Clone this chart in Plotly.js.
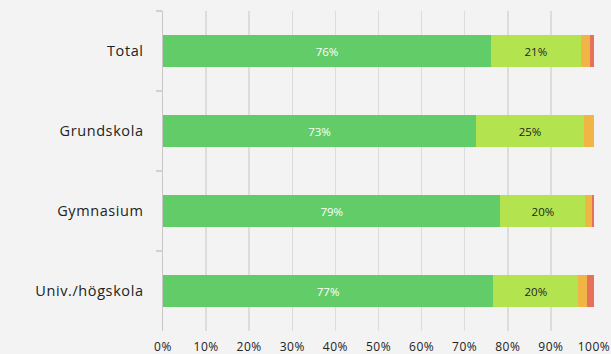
<!DOCTYPE html>
<html>
<head>
<meta charset="utf-8">
<script src="https://cdn.plot.ly/plotly-3.0.1.min.js"></script>
<style>
html,body{margin:0;padding:0;background:#f3f3f3;}
#chart{width:611px;height:354px;}
.ytick text{letter-spacing:0.6px;}
.xtick text{letter-spacing:0.5px;}
.bars .textpoint text{letter-spacing:0.5px;}
</style>
</head>
<body>
<div id="chart"></div>
<script>
const categories = ["Total", "Grundskola", "Gymnasium", "Univ./högskola"];
const seriesA = [76.1, 72.6, 78.3, 76.6];
const seriesB = [20.8, 25.1, 19.7, 19.8];
const seriesC = [2.2, 2.3, 1.5, 2.0];
const seriesD = [0.9, 0.0, 0.5, 1.6];
const labelsA = ["76%", "73%", "79%", "77%"];
const labelsB = ["21%", "25%", "20%", "20%"];
const xTickVals = [0,10,20,30,40,50,60,70,80,90,100];
const xTickText = ["0%","10%","20%","30%","40%","50%","60%","70%","80%","90%","100%"];

const font = "Open Sans, sans-serif";
function bar(vals, color, text, textColor){
  return {
    type: "bar", orientation: "h", y: categories, x: vals,
    marker: {color: color, line: {width: 0}},
    text: text || null, textposition: text ? "inside" : "none",
    insidetextanchor: "middle",
    textfont: {family: font, size: 11.5, color: textColor || "#222"},
    hoverinfo: "x+y"
  };
}
const data = [
  bar(seriesA, "#62cd68", labelsA, "#ffffff"),
  bar(seriesB, "#b3e34f", labelsB, "#1f1f1f"),
  bar(seriesC, "#f1b546"),
  bar(seriesD, "#e7705a")
];
const layout = {
  width: 611, height: 354,
  barmode: "stack", bargap: 0.59,
  showlegend: false,
  paper_bgcolor: "#f3f3f3", plot_bgcolor: "#f3f3f3",
  margin: {l: 163, r: 17, t: 11, b: 23},
  font: {family: font, color: "#222"},
  xaxis: {
    range: [0, 100], tickvals: xTickVals, ticktext: xTickText,
    showgrid: true, gridcolor: "#dcdcdc", gridwidth: 1.5,
    zeroline: false, showline: false, ticks: "",
    ticklabelstandoff: 7,
    tickfont: {family: font, size: 12, color: "#222"},
    fixedrange: true
  },
  yaxis: {
    autorange: "reversed", type: "category",
    showline: true, linecolor: "#c8c8c8", linewidth: 1.5,
    ticks: "outside", tickson: "boundaries", ticklen: 6, tickcolor: "#d0d0d0", tickwidth: 1.5,
    ticklabelstandoff: 15,
    showgrid: false,
    tickfont: {family: font, size: 14.5, color: "#222"},
    fixedrange: true
  }
};
Plotly.newPlot("chart", data, layout, {displayModeBar: false, staticPlot: true});
</script>
</body>
</html>
